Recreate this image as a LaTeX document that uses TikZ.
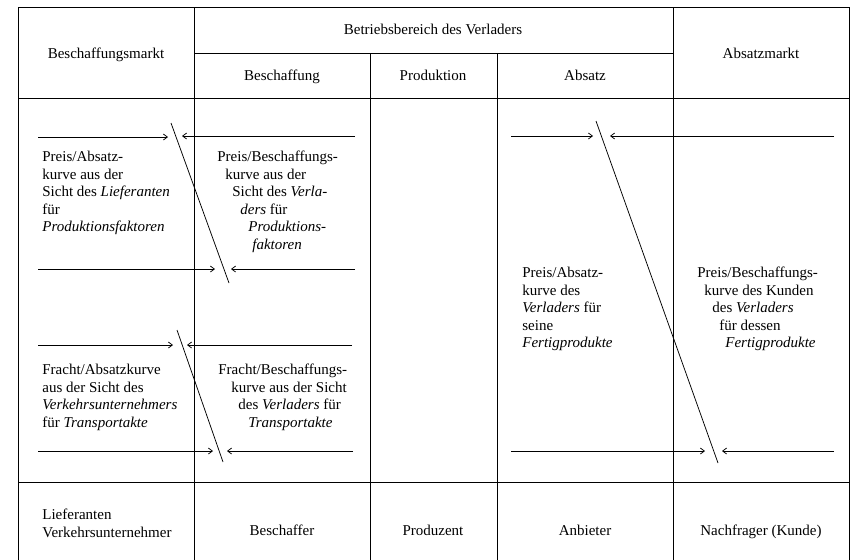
\documentclass[tikz,border=0pt]{standalone}
\usepackage{fontspec}
\setmainfont{Liberation Serif}
\usetikzlibrary{arrows.meta}

\begin{document}
\begin{tikzpicture}[x=1pt,y=-1pt,line width=0.75pt,>={Straight Barb[length=4pt,width=6pt]},
  every node/.style={font=\fontsize{15}{17.5}\selectfont,inner sep=0pt},
  head/.style={anchor=center,align=center,text height=10pt,text depth=3pt},
  txt/.style={anchor=north west,align=left}]
  \useasboundingbox (0,0) rectangle (855,560);
  % table frame
  \draw (18,560) -- (18,7) -- (849,7) -- (849,560);
  \draw (194,7) -- (194,560);
  \draw (673,7) -- (673,560);
  \draw (370,53) -- (370,560);
  \draw (497,53) -- (497,560);
  \draw (194,53) -- (673,53);
  \draw (18,98) -- (849,98);
  \draw (18,482) -- (849,482);
  % header
  \node[head] (bmarkt) at (106,55) {Beschaffungsmarkt};
  \node[head] (betrieb) at (433,31) {Betriebsbereich des Verladers};
  \node[head] (beschaff) at (282,77) {Beschaffung};
  \node[head] (produkt) at (433,77) {Produktion};
  \node[head] (absatz) at (585,77) {Absatz};
  \node[head] (amarkt) at (761,55) {Absatzmarkt};
  % footer
  \node[txt] (liefer) at (42,509) {Lieferanten\\Verkehrsunternehmer};
  \node[head] (beschaffer) at (282,532) {Beschaffer};
  \node[head] (produzent) at (433,532) {Produzent};
  \node[head] (anbieter) at (585,532) {Anbieter};
  \node[head] (nachfrager) at (761,532) {Nachfrager (Kunde)};
  % texts
  \node[txt] (pal) at (42,151) {Preis/Absatz-\\kurve aus der\\Sicht des \textit{Lieferanten}\\für\\\textit{Produktionsfaktoren}};
  \node[txt] (pbv) at (217,151) {Preis/Beschaffungs-\\\hspace*{8pt}kurve aus der\\\hspace*{15pt}Sicht des \textit{Verla-}\\\hspace*{23pt}\textit{ders} für\\\hspace*{31pt}\textit{Produktions-}\\\hspace*{35pt}\textit{faktoren}};
  \node[txt] (fal) at (42,364) {Fracht/Absatzkurve\\aus der Sicht des\\\textit{Verkehrsunternehmers}\\für \textit{Transportakte}};
  \node[txt] (fbv) at (218,364) {Fracht/Beschaffungs-\\\hspace*{13pt}kurve aus der Sicht\\\hspace*{20pt}des \textit{Verladers} für\\\hspace*{30pt}\textit{Transportakte}};
  \node[txt] (pav) at (522,267) {Preis/Absatz-\\kurve des\\\textit{Verladers} für\\seine\\\textit{Fertigprodukte}};
  \node[txt] (pbk) at (697,267) {Preis/Beschaffungs-\\\hspace*{7pt}kurve des Kunden\\\hspace*{15pt}des \textit{Verladers}\\\hspace*{22pt}für dessen\\\hspace*{28pt}\textit{Fertigprodukte}};
  % Preis: Lieferant / Beschaffer
  \coordinate (p1s) at (38,137);  \coordinate (p1e) at (168,137);
  \coordinate (p2s) at (355,136); \coordinate (p2e) at (182,136);
  \coordinate (p3s) at (38,269);  \coordinate (p3e) at (215,269);
  \coordinate (p4s) at (355,269); \coordinate (p4e) at (231,269);
  \coordinate (ptop) at (171,123); \coordinate (pbot) at (229,283);
  \draw[->] (p1s) -- (p1e); \draw[->] (p2s) -- (p2e);
  \draw[->] (p3s) -- (p3e); \draw[->] (p4s) -- (p4e);
  \draw (ptop) -- (pbot);
  % Fracht: Verkehrsunternehmer / Beschaffer
  \coordinate (f1s) at (38,345);  \coordinate (f1e) at (173,345);
  \coordinate (f2s) at (352,345); \coordinate (f2e) at (187,345);
  \coordinate (f3s) at (38,451);  \coordinate (f3e) at (213,451);
  \coordinate (f4s) at (353,451); \coordinate (f4e) at (227,451);
  \coordinate (ftop) at (177,330); \coordinate (fbot) at (223,462);
  \draw[->] (f1s) -- (f1e); \draw[->] (f2s) -- (f2e);
  \draw[->] (f3s) -- (f3e); \draw[->] (f4s) -- (f4e);
  \draw (ftop) -- (fbot);
  % Absatz: Anbieter / Kunde
  \coordinate (a1s) at (511,136); \coordinate (a1e) at (593,136);
  \coordinate (a2s) at (834,136); \coordinate (a2e) at (610,136);
  \coordinate (a3s) at (511,451); \coordinate (a3e) at (705,451);
  \coordinate (a4s) at (834,451); \coordinate (a4e) at (722,451);
  \coordinate (atop) at (596,121); \coordinate (abot) at (718,463);
  \draw[->] (a1s) -- (a1e); \draw[->] (a2s) -- (a2e);
  \draw[->] (a3s) -- (a3e); \draw[->] (a4s) -- (a4e);
  \draw (atop) -- (abot);
\end{tikzpicture}
\end{document}
